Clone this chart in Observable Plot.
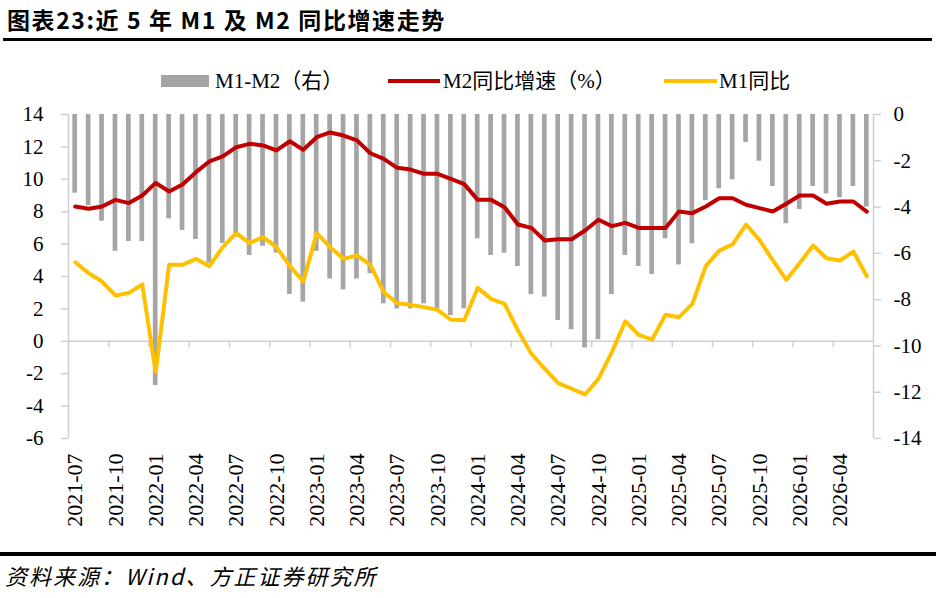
<!DOCTYPE html>
<html>
<head>
<meta charset="utf-8">
<script src="https://cdn.jsdelivr.net/npm/d3@7"></script>
<script src="https://cdn.jsdelivr.net/npm/@observablehq/plot@0.6"></script>
<style>
  html, body { margin: 0; padding: 0; background: #fff; }
  #wrap { width: 936px; height: 598px; position: relative; overflow: hidden; background: #fff; }
  #header { position: relative; width: 936px; height: 100px; }
  #title { position: absolute; left: 7px; top: 0; height: 38px; line-height: 38px;
    font-family: "Noto Sans CJK SC", sans-serif; font-weight: bold; font-size: 23px; letter-spacing: 1.6px; color: #000; white-space: nowrap; }
  #titleLine { position: absolute; left: 3px; right: 4px; top: 38px; height: 3px; background: #000; }
  .lg { position: absolute; top: 66px; height: 30px; line-height: 30px; font-family: "Liberation Serif", "Noto Sans CJK SC", serif; font-size: 21px; color: #000; white-space: nowrap; }
  .sw { position: absolute; }
  #chart svg { display: block; }
  #footer { width: 936px; height: 42px; border-top: 4px solid #000; }
  #source { padding-left: 5px; padding-top: 4px; line-height: 30px; font-family: "Noto Sans CJK SC", sans-serif; font-style: italic; font-size: 22px; letter-spacing: 2px; color: #000; white-space: nowrap; }
</style>
</head>
<body>
<div id="wrap">
  <div id="header">
    <div id="title">图表23:近 5 年 M1 及 M2 同比增速走势</div>
    <div id="titleLine"></div>
    <div class="sw" style="left:161px;top:75px;width:48px;height:12px;background:#A5A5A5"></div>
    <div class="lg" style="left:215px">M1-M2（右）</div>
    <div class="sw" style="left:388px;top:79px;width:52px;height:4px;background:#C00000"></div>
    <div class="lg" style="left:443px">M2同比增速（%）</div>
    <div class="sw" style="left:664px;top:79px;width:53px;height:4px;background:#FFC000"></div>
    <div class="lg" style="left:719px">M1同比</div>
  </div>
  <div id="chart"></div>
  <div id="footer"><div id="source">资料来源：Wind、方正证券研究所</div></div>
</div>
<script>
const months = [
  "2021-07","2021-08","2021-09","2021-10","2021-11","2021-12",
  "2022-01","2022-02","2022-03","2022-04","2022-05","2022-06","2022-07","2022-08","2022-09","2022-10","2022-11","2022-12",
  "2023-01","2023-02","2023-03","2023-04","2023-05","2023-06","2023-07","2023-08","2023-09","2023-10","2023-11","2023-12",
  "2024-01","2024-02","2024-03","2024-04","2024-05","2024-06","2024-07","2024-08","2024-09","2024-10","2024-11","2024-12",
  "2025-01","2025-02","2025-03","2025-04","2025-05","2025-06","2025-07","2025-08","2025-09","2025-10","2025-11","2025-12",
  "2026-01","2026-02","2026-03","2026-04","2026-05","2026-06"
];
// M2 同比增速 (%), left axis
const m2 = [
  8.32, 8.18, 8.32, 8.73, 8.53, 9.00,
  9.78, 9.25, 9.68, 10.44, 11.10, 11.41, 11.98, 12.19, 12.09, 11.78, 12.35, 11.82,
  12.60, 12.89, 12.70, 12.40, 11.61, 11.26, 10.71, 10.60, 10.34, 10.34, 10.03, 9.70,
  8.73, 8.73, 8.28, 7.21, 7.00, 6.22, 6.30, 6.30, 6.84, 7.50, 7.11, 7.31,
  7.00, 7.00, 7.00, 8.01, 7.91, 8.32, 8.83, 8.83, 8.43, 8.22, 8.01, 8.49,
  9.00, 9.00, 8.49, 8.63, 8.63, 8.01
];
// M1 同比 (%), left axis
const m1 = [
  4.88, 4.21, 3.69, 2.83, 2.99, 3.51,
  -1.90, 4.72, 4.72, 5.09, 4.64, 5.81, 6.68, 6.06, 6.43, 5.81, 4.64, 3.69,
  6.68, 5.81, 5.09, 5.30, 4.72, 3.03, 2.35, 2.25, 2.11, 1.94, 1.33, 1.30,
  3.30, 2.62, 2.31, 0.67, -0.77, -1.70, -2.58, -2.93, -3.28, -2.32, -0.67, 1.24,
  0.40, 0.11, 1.64, 1.49, 2.31, 4.64, 5.60, 5.98, 7.21, 6.26, 4.99, 3.79,
  4.84, 5.91, 5.13, 4.99, 5.54, 4.02
];
// M1-M2 (右), right axis
const diff = [
  -3.40, -3.94, -4.61, -5.91, -5.49, -5.49,
  -11.71, -4.51, -5.01, -5.40, -6.42, -5.57, -5.30, -6.09, -5.69, -5.99, -7.78, -8.11,
  -5.91, -7.11, -7.58, -7.11, -6.88, -8.18, -8.40, -8.40, -8.18, -8.40, -8.69, -8.40,
  -5.37, -6.09, -5.99, -6.57, -7.78, -7.89, -8.90, -9.30, -10.09, -9.73, -7.78, -6.09,
  -6.57, -6.91, -5.37, -6.50, -5.59, -3.72, -3.21, -2.82, -1.21, -2.02, -3.11, -4.72,
  -4.11, -3.11, -3.43, -3.60, -3.11, -4.00
];
const tickLabels = ["2021-07","2021-10","2022-01","2022-04","2022-07","2022-10","2023-01","2023-04","2023-07","2023-10",
  "2024-01","2024-04","2024-07","2024-10","2025-01","2025-04","2025-07","2025-10","2026-01","2026-04"];
const leftTicks = [-6, -4, -2, 0, 2, 4, 6, 8, 10, 12, 14];
const rightTicks = [0, -2, -4, -6, -8, -10, -12, -14];

const leftDomain = [-6, 14];
const rightDomain = [-14, 0];
// map right-axis value onto left-axis scale
const toLeft = r => leftDomain[0] + (r - rightDomain[0]) * (leftDomain[1] - leftDomain[0]) / (rightDomain[1] - rightDomain[0]);
const fromLeft = l => rightDomain[0] + (l - leftDomain[0]) * (rightDomain[1] - rightDomain[0]) / (leftDomain[1] - leftDomain[0]);

const data = months.map((m, i) => ({month: m, m2: m2[i], m1: m1[i], diff: diff[i]}));

const W = 936, H = 452, ML = 68, MR = 63, MT = 14, MB = 114;
const step = (W - ML - MR) / months.length;
const axisGray = "#D0D0D0";
const fontStack = "'Liberation Serif', 'Times New Roman', 'Noto Sans CJK SC', serif";

const chart = Plot.plot({
  width: W, height: H,
  marginLeft: ML, marginRight: MR, marginTop: MT, marginBottom: MB,
  style: {fontFamily: fontStack, fontSize: "21px", color: "#000", background: "#fff", overflow: "visible"},
  x: {type: "band", domain: months, paddingInner: 0.65, paddingOuter: 0.325, round: false, label: null},
  y: {domain: leftDomain, label: null},
  marks: [
    Plot.ruleY([0], {stroke: axisGray, strokeWidth: 1.5}),
    Plot.barY(data, {x: "month", y1: () => toLeft(0), y2: d => toLeft(d.diff), fill: "#A5A5A5"}),
    // category tick marks on the zero line (between categories)
    Plot.ruleX(tickLabels.slice(1), {x: d => d, y1: 0, y2: -0.4, dx: -step / 2, stroke: axisGray, strokeWidth: 1.5}),
    // left and right axis lines
    Plot.ruleX([months[0]], {x: d => d, y1: leftDomain[0], y2: leftDomain[1], dx: -step / 2, stroke: axisGray, strokeWidth: 1.5}),
    Plot.ruleX([months[months.length - 1]], {x: d => d, y1: leftDomain[0], y2: leftDomain[1], dx: step / 2, stroke: axisGray, strokeWidth: 1.5}),
    Plot.axisY({anchor: "left", ticks: leftTicks, tickFormat: d => String(d), tickSize: 7, tickPadding: 18,
      stroke: axisGray, strokeWidth: 1.5, fill: "#000", fontSize: 21, fontFamily: fontStack}),
    Plot.axisY({anchor: "right", ticks: rightTicks.map(toLeft), tickFormat: d => String(Math.round(fromLeft(d)) || 0),
      tickSize: 7, tickPadding: 13, stroke: axisGray, strokeWidth: 1.5, fill: "#000", fontSize: 21, fontFamily: fontStack}),
    Plot.axisX({anchor: "bottom", ticks: tickLabels, tickRotate: -90, tickSize: 0, tickPadding: 15,
      fill: "#000", fontSize: 22, fontFamily: fontStack}),
    Plot.line(data, {x: "month", y: "m2", stroke: "#C00000", strokeWidth: 4}),
    Plot.line(data, {x: "month", y: "m1", stroke: "#FFC000", strokeWidth: 4})
  ]
});
document.getElementById("chart").appendChild(chart);
</script>
</body>
</html>
